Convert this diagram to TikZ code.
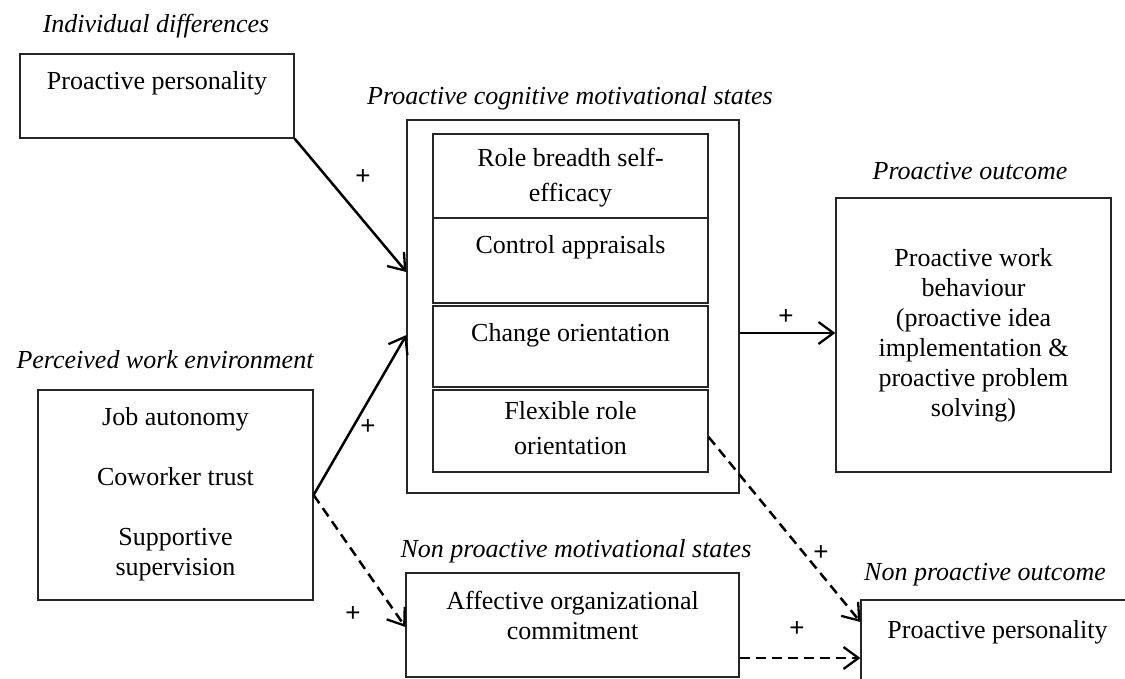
\documentclass[tikz,border=0pt]{standalone}
\usepackage{fontspec}
\setmainfont{Liberation Serif}
\newfontfamily\plusfont{Liberation Sans}
\usetikzlibrary{arrows.meta}
\begin{document}
\begin{tikzpicture}[x=1pt,y=-1pt,
  box/.style={draw=black!85, line width=1.2pt, rectangle, inner sep=0pt},
  txt/.style={font=\fontsize{26}{30}\selectfont, align=center, inner sep=0pt,
    execute at begin node=\strut, execute at end node=\strut},
  txtw/.style={font=\fontsize{26}{35}\selectfont, align=center, inner sep=0pt,
    execute at begin node=\strut, execute at end node=\strut},
  ttl/.style={font=\fontsize{26}{30}\selectfont\itshape, inner sep=0pt,
    execute at begin node=\strut},
  pl/.style={font=\plusfont\fontsize{26}{26}\selectfont, inner sep=0pt},
  conn/.style={line width=2.5pt, -{Straight Barb[length=15pt,width=22pt,line width=2.3pt]}},
  dconn/.style={conn, dash pattern=on 10pt off 6pt},
]
\clip (0,0) rectangle (1125,679);

% titles
\node[ttl] (t1) at (156,27) {Individual differences};
\node[ttl] (t2) at (570,99) {Proactive cognitive motivational states};
\node[ttl] (t3) at (970,174) {Proactive outcome};
\node[ttl] (t4) at (165,362) {Perceived work environment};
\node[ttl] (t5) at (576,551) {Non proactive motivational states};
\node[ttl] (t6) at (985,574) {Non proactive outcome};

% boxes
\node[box, minimum width=274pt, minimum height=84pt] (pp) at (157,96) {};
\node[box, minimum width=275pt, minimum height=210pt] (env) at (175.5,495) {};
\node[box, minimum width=332pt, minimum height=373pt] (outer) at (573,306.5) {};
\node[box, minimum width=275pt, minimum height=84pt] (rb) at (570.5,176) {};
\node[box, minimum width=275pt, minimum height=85pt] (ca) at (570.5,260.5) {};
\node[box, minimum width=275pt, minimum height=81pt] (co) at (570.5,346.5) {};
\node[box, minimum width=275pt, minimum height=82pt] (fr) at (570.5,431) {};
\node[box, minimum width=275pt, minimum height=274pt] (out) at (973.5,335) {};
\node[box, minimum width=333pt, minimum height=104pt] (aoc) at (572.5,625) {};
\node[box, minimum width=274pt, minimum height=90pt] (npo) at (998,645) {};

% box texts
\node[txt] (pptx) at (157,84) {Proactive personality};
\node[txtw] (rbtx) at (570.5,180.5) {Role breadth self-\\efficacy};
\node[txt] (catx) at (570.5,248) {Control appraisals};
\node[txt] (cotx) at (570.5,335) {Change orientation};
\node[txtw] (frtx) at (570.5,433) {Flexible role\\orientation};
\node[txt] (env1) at (175.5,419) {Job autonomy};
\node[txt] (env2) at (175.5,479) {Coworker trust};
\node[txt] (env3) at (175.5,556) {Supportive\\supervision};
\node[txt] (outtx) at (973.5,337) {Proactive work\\behaviour\\(proactive idea\\implementation \&\\proactive problem\\solving)};
\node[txt] (aoctx) at (572.5,620) {Affective organizational\\commitment};
\node[txt] (npotx) at (997.5,632) {Proactive personality};

% connectors
\draw[conn] (pp.south east) -- ([yshift=34.5pt]outer.west);
\draw[conn] (env.east) -- ([yshift=-28.5pt]outer.west);
\draw[dconn] (env.east) -- ([yshift=-2pt]aoc.west);
\coordinate (s4) at ([yshift=-26.5pt]outer.east);
\draw[conn] (s4) -- (s4 -| out.west);
\draw[dconn] ([yshift=-6pt]fr.east) -- ([yshift=23pt]npo.west);
\coordinate (s6) at ([yshift=-33pt]aoc.east);
\draw[dconn] (s6) -- (s6 -| npo.west);

% signs
\node[pl] (p1) at (363,177) {+};
\node[pl] (p2) at (368,427) {+};
\node[pl] (p3) at (353,614) {+};
\node[pl] (p4) at (786,317) {+};
\node[pl] (p5) at (821,553) {+};
\node[pl] (p6) at (797,629) {+};
\end{tikzpicture}
\end{document}
